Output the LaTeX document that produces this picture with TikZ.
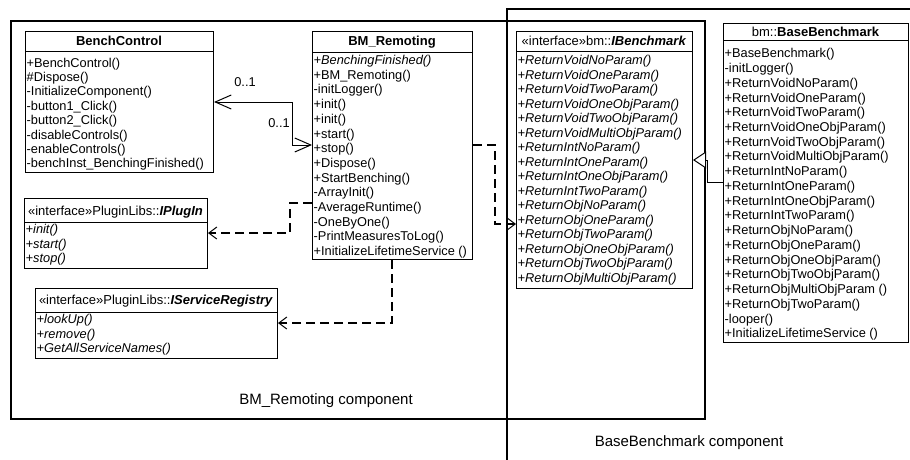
\documentclass[tikz,border=0pt]{standalone}
\usepackage{fontspec}
\setmainfont{Liberation Sans}
\usetikzlibrary{arrows.meta}

\tikzset{
  classbox/.style={draw, fill=white, line width=1pt, inner sep=0pt, anchor=north west},
  sepline/.style={line width=1pt},
  frameline/.style={line width=1.8pt},
  hdr/.style={font=\fontsize{13}{15}\selectfont, inner sep=0pt, anchor=base},
  member/.style={font=\fontsize{12.8}{14.5}\selectfont, inner sep=0pt, anchor=base west},
  mult/.style={font=\fontsize{12.8}{14.5}\selectfont, inner sep=0pt},
  complabel/.style={font=\fontsize{15}{17}\selectfont, inner sep=0pt},
  dep/.style={line width=2pt, dash pattern=on 9pt off 5pt,
    -{Straight Barb[length=8pt,width=12pt,line width=1pt]}},
  assoc/.style={line width=1pt,
    {Straight Barb[length=16pt,width=14pt]}-{Straight Barb[length=16pt,width=14pt]}},
  gen/.style={line width=1pt, -{Triangle[open,length=13pt,width=17pt,fill=white]}},
}

\begin{document}
\begin{tikzpicture}[x=1pt, y=-1pt]
\useasboundingbox (0,0) rectangle (910,460);

% component frames
\draw[frameline] (11,21) rectangle (705,419);
\draw[frameline] (910,9) -- (507,9) -- (507,460);
\node[complabel] (lblremo) at (326,401) {BM\_Remoting component};
\node[complabel] (lblbase) at (689,443) {BaseBenchmark component};

% BenchControl
\node[classbox, minimum width=188pt, minimum height=141pt] (bench) at (25,31) {};
\draw[sepline] ([yshift=-21pt]bench.north west) -- ([yshift=-21pt]bench.north east);
\node[hdr] at (119,45.5) {\bfseries BenchControl};
\foreach \t [count=\i from 0] in {+BenchControl(), \#Dispose(), -InitializeComponent(),
  -button1\_Click(), -button2\_Click(), -disableControls(), -enableControls(),
  -benchInst\_BenchingFinished()}
  \node[member] at (26.5,{67.2+\i*14.37}) {\t};

% BM_Remoting
\node[classbox, minimum width=160pt, minimum height=228pt] (remo) at (312,31) {};
\draw[sepline] ([yshift=-22pt]remo.north west) -- ([yshift=-22pt]remo.north east);
\node[hdr] at (392,45.5) {\bfseries BM\_Remoting};
\foreach \t [count=\i from 0] in {\textit{+BenchingFinished()}, +BM\_Remoting(), -initLogger(),
  +init(), +init(), +start(), +stop(), +Dispose(), +StartBenching(), -ArrayInit(),
  -AverageRuntime(), -OneByOne(), -PrintMeasuresToLog(), +InitializeLifetimeService ()}
  \node[member] at (313.5,{64.5+\i*14.7}) {\t};

% IBenchmark
\node[classbox, minimum width=176pt, minimum height=257pt] (ibench) at (516,31) {};
\draw[sepline] ([yshift=-21pt]ibench.north west) -- ([yshift=-21pt]ibench.north east);
\node[hdr] at (604,45.5) {«interface»bm::\textbf{\textit{IBenchmark}}};
\foreach \t [count=\i from 0] in {ReturnVoidNoParam, ReturnVoidOneParam, ReturnVoidTwoParam,
  ReturnVoidOneObjParam, ReturnVoidTwoObjParam, ReturnVoidMultiObjParam, ReturnIntNoParam,
  ReturnIntOneParam, ReturnIntOneObjParam, ReturnIntTwoParam, ReturnObjNoParam,
  ReturnObjOneParam, ReturnObjTwoParam, ReturnObjOneObjParam, ReturnObjTwoObjParam,
  ReturnObjMultiObjParam}
  \node[member] at (517.5,{64.5+\i*14.53}) {\itshape +\t()};

% BaseBenchmark
\node[classbox, minimum width=185pt, minimum height=319pt] (basebm) at (723,23) {};
\draw[sepline] ([yshift=-18pt]basebm.north west) -- ([yshift=-18pt]basebm.north east);
\node[hdr] at (815.5,36.5) {bm::\textbf{BaseBenchmark}};
\foreach \t [count=\i from 0] in {+BaseBenchmark(), -initLogger(), +ReturnVoidNoParam(),
  +ReturnVoidOneParam(), +ReturnVoidTwoParam(), +ReturnVoidOneObjParam(),
  +ReturnVoidTwoObjParam(), +ReturnVoidMultiObjParam(), +ReturnIntNoParam(),
  +ReturnIntOneParam(), +ReturnIntOneObjParam(), +ReturnIntTwoParam(),
  +ReturnObjNoParam(), +ReturnObjOneParam(), +ReturnObjOneObjParam(),
  +ReturnObjTwoObjParam(), +ReturnObjMultiObjParam (), +ReturnObjTwoParam(),
  -looper(), +InitializeLifetimeService ()}
  \node[member] at (724.5,{57.8+\i*14.74}) {\t};

% IPlugIn
\node[classbox, minimum width=183pt, minimum height=70pt] (plugin) at (24,198) {};
\draw[sepline] ([yshift=-24pt]plugin.north west) -- ([yshift=-24pt]plugin.north east);
\node[hdr] at (115.5,215.5) {«interface»PluginLibs::\textbf{\textit{IPlugIn}}};
\foreach \t [count=\i from 0] in {init, start, stop}
  \node[member] at (25.5,{233.5+\i*14.5}) {\itshape +\t()};

% IServiceRegistry
\node[classbox, minimum width=242pt, minimum height=70pt] (svc) at (35,288) {};
\draw[sepline] ([yshift=-24pt]svc.north west) -- ([yshift=-24pt]svc.north east);
\node[hdr] at (156,304.5) {«interface»PluginLibs::\textbf{\textit{IServiceRegistry}}};
\foreach \t [count=\i from 0] in {lookUp, remove, GetAllServiceNames}
  \node[member] at (36.5,{323.5+\i*14.5}) {\itshape +\t()};

% association BenchControl <-> BM_Remoting
\draw[assoc] ([yshift=-71pt]bench.north east) -| ++(78,43) -- ([yshift=-114pt]remo.north west);
\node[mult] (m1) at (245,82) {0..1};
\node[mult] (m2) at (279,123) {0..1};

% usage dependencies
\draw[dep] ([yshift=-172pt]remo.north west) -- ++(-22,0) |- ([yshift=-35pt]plugin.north east);
\draw[dep] ([xshift=80pt]remo.south west) |- ([yshift=-35pt]svc.north east);
\draw[dep] ([yshift=-114pt]remo.north east) -- ++(22,0) |- ([yshift=-193pt]ibench.north west);

% realisation BaseBenchmark -> IBenchmark
\draw[gen] ([yshift=-159pt]basebm.north west) -- ++(-16,0) |- ([yshift=-129pt]ibench.north east);
\end{tikzpicture}
\end{document}
